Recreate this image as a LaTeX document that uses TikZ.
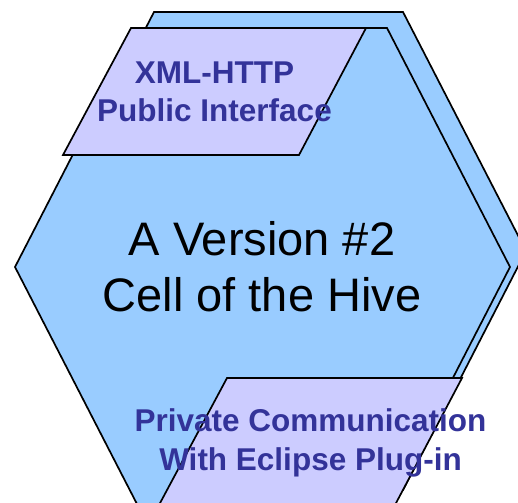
\documentclass[tikz,border=0pt]{standalone}
\usepackage{fontspec}
\setmainfont{Liberation Sans}
\begin{document}
\begin{tikzpicture}[x=1pt,y=-1pt,
  cell/.style={fill=cellblue,draw=black,line width=1.7pt,line join=miter},
  port/.style={fill=portlav,draw=black,line width=1.7pt,line join=miter},
  porttext/.style={text=portink,align=center,font=\fontsize{31.5}{38.5}\selectfont\bfseries,inner sep=0pt},
  maintext/.style={text=black,align=center,font=\fontsize{47}{56}\selectfont,inner sep=0pt}]
\definecolor{cellblue}{HTML}{99CCFF}
\definecolor{portlav}{HTML}{CCCCFF}
\definecolor{portink}{HTML}{333399}
\useasboundingbox (0,0) rectangle (518,502);
\clip (0,0) rectangle (518,502);
% rear cell, shifted up and to the right
\draw[cell] (154,12) -- (403,12) -- (526,251) -- (403,490) -- (154,490) -- (31,251) -- cycle;
% front cell
\draw[cell] (138,28) -- (387,28) -- (510,267) -- (387,506) -- (138,506) -- (15,267) -- cycle;
% interface ports
\draw[port] (131,28) -- (366,28) -- (299,155) -- (63,155) -- cycle;
\draw[port] (227,378) -- (462,378) -- (395,505) -- (159,505) -- cycle;
% labels
\node[maintext] (cell) at (262,267) {A Version \#2\\Cell of the Hive};
\node[porttext] (public) at (214.5,92) {XML-HTTP\\Public Interface};
\node[porttext] (private) at (310.5,443) {Private Communication\\With Eclipse Plug-in};
\end{tikzpicture}
\end{document}
